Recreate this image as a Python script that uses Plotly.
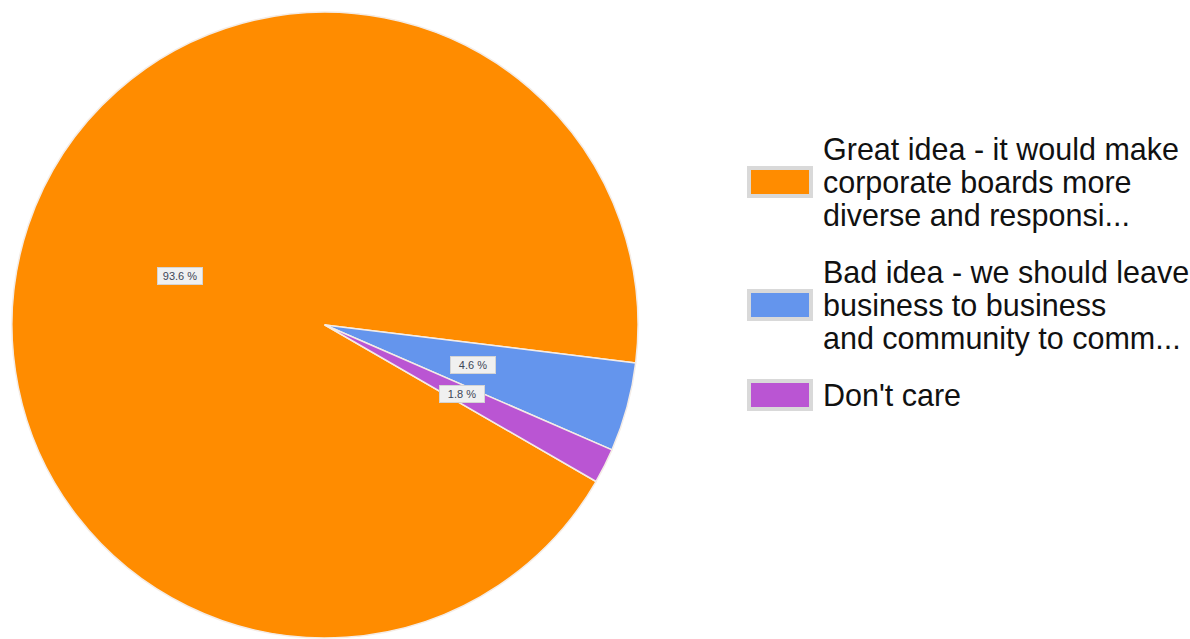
import math
import plotly.graph_objects as go

labels = [
    "Great idea - it would make<br>corporate boards more<br>diverse and responsi...",
    "Bad idea - we should leave<br>business to business<br>and community to comm...",
    "Don't care",
]
values = [93.6, 4.6, 1.8]
colors = ["#FF8C00", "#6495ED", "#BA55D3"]

W, H = 1190, 639
CX, CY, R = 325, 325, 313      # pie centre / radius in pixels
ROT = 120                      # first slice start angle (deg clockwise from 12 o'clock)

fig = go.Figure(go.Pie(
    labels=labels,
    values=values,
    marker=dict(colors=colors, line=dict(color="#f4ece6", width=1.5)),
    sort=False,
    direction="clockwise",
    rotation=ROT,
    textinfo="none",
    hoverinfo="skip",
    showlegend=False,
    domain=dict(x=[(CX - R) / W, (CX + R) / W], y=[1 - (CY + R) / H, 1 - (CY - R) / H]),
))

# slice percentage labels at about half radius on each slice's mid angle
total = sum(values)
ang = ROT
annotations = []
for v in values:
    span = 360 * v / total
    mid = math.radians(ang + span / 2)
    ang += span
    px = CX + 0.49 * R * math.sin(mid)
    py = CY - 0.49 * R * math.cos(mid)
    annotations.append(dict(
        x=px / W, y=1 - py / H, xref="paper", yref="paper",
        xanchor="center", yanchor="middle",
        text=f"{v:.1f} %", showarrow=False,
        font=dict(family="Liberation Sans, Arial", size=11, color="#3c4656"),
        bgcolor="#f0f0f0", bordercolor="#d4d4d4", borderwidth=1, borderpad=2,
        width=40,
    ))

# legend (drawn to match the large swatches of the original)
shapes = []
leg_y = [182, 305, 395]
LINE = 33.5
for lab, col, yc in zip(labels, colors, leg_y):
    shapes.append(dict(
        type="rect", xref="paper", yref="paper",
        x0=749 / W, x1=811 / W, y0=1 - (yc + 14) / H, y1=1 - (yc - 14) / H,
        fillcolor=col, line=dict(color="#d9d9d9", width=4),
    ))
    lines = lab.split("<br>")
    n = len(lines)
    for i, ln in enumerate(lines):
        ly = yc + (i - (n - 1) / 2) * LINE
        annotations.append(dict(
            x=821 / W, y=1 - ly / H, xref="paper", yref="paper",
            xanchor="left", yanchor="middle", align="left",
            text=ln, showarrow=False,
            font=dict(family="Liberation Sans, Arial", size=30.5, color="#111111"),
        ))

fig.update_layout(
    width=W, height=H,
    margin=dict(l=0, r=0, t=0, b=0),
    paper_bgcolor="white",
    plot_bgcolor="white",
    annotations=annotations,
    shapes=shapes,
)

fig.write_html("out.html")
